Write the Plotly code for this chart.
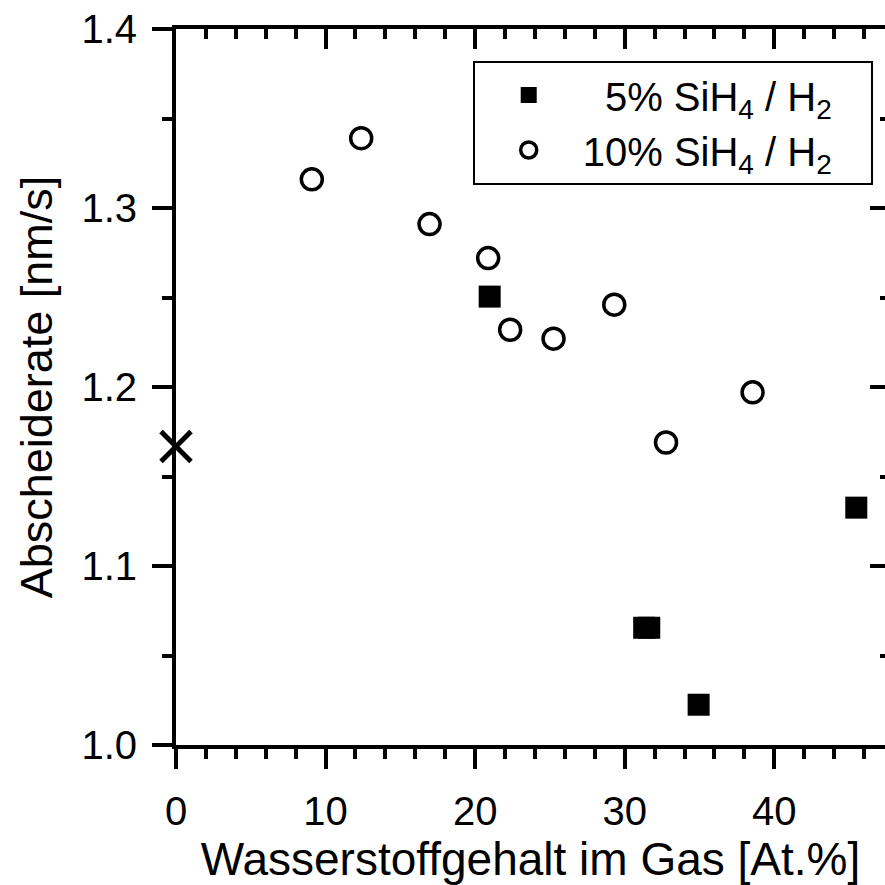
import plotly.graph_objects as go

# data
x_10 = [9.08, 12.38, 16.95, 20.87, 22.34, 25.24, 29.3, 32.76, 38.55]
y_10 = [1.316, 1.339, 1.291, 1.272, 1.232, 1.227, 1.246, 1.169, 1.197]
x_5 = [20.97, 31.30, 31.64, 34.94, 45.48]
y_5 = [1.2505, 1.0655, 1.0655, 1.0225, 1.1326]
x_ref = [0.0]
y_ref = [1.1668]

FONT = "Arial, 'Liberation Sans', sans-serif"
NB = "\u00a0"
PAD = "<span style='color:rgba(0,0,0,0)'>...</span>"

fig = go.Figure()
fig.add_trace(go.Scatter(
    x=x_5, y=y_5, mode="markers",
    name=NB * 2 + "5% SiH<sub>4</sub> / H<sub>2</sub>" + PAD,
    marker=dict(symbol="square", size=22, color="black", line=dict(width=0)),
    cliponaxis=False, xaxis="x", yaxis="y"))
fig.add_trace(go.Scatter(
    x=x_10, y=y_10, mode="markers",
    name="10% SiH<sub>4</sub> / H<sub>2</sub>" + PAD,
    marker=dict(symbol="circle-open", size=21, color="black", line=dict(width=3.5, color="black")),
    cliponaxis=False, xaxis="x2", yaxis="y2"))
fig.add_trace(go.Scatter(
    x=x_ref, y=y_ref, mode="markers", showlegend=False,
    marker=dict(symbol="x-thin-open", size=30, color="black", line=dict(width=5, color="black")),
    cliponaxis=False, xaxis="x", yaxis="y"))

common = dict(showgrid=False, zeroline=False, linecolor="black", linewidth=4,
              tickcolor="black", tickwidth=3.5)
minor_common = dict(tickwidth=3.5, tickcolor="black")

fig.update_layout(
    width=885, height=885,
    margin=dict(l=176, r=0, t=29, b=140),
    paper_bgcolor="white", plot_bgcolor="white",
    font=dict(family=FONT, color="black"),
    showlegend=True,
    legend=dict(x=0.4185, y=0.956, xanchor="left", yanchor="top",
                bordercolor="black", borderwidth=2, bgcolor="white",
                font=dict(size=40, family=FONT), itemwidth=98,
                tracegroupgap=0),
    xaxis=dict(range=[0, 47.4], showline=True, ticks="outside", ticklen=20,
               dtick=10, tick0=0, tickfont=dict(size=40), ticklabelstandoff=8,
               minor=dict(dtick=2, ticks="outside", ticklen=10, **minor_common),
               title=dict(text="Wasserstoffgehalt im Gas [At.%]", font=dict(size=46), standoff=12),
               **common),
    xaxis2=dict(range=[0, 47.4], overlaying="x", side="top", anchor="y2", matches="x",
                showline=True, ticks="inside", ticklen=20, dtick=10, tick0=0,
                showticklabels=False,
                minor=dict(dtick=2, ticks="inside", ticklen=10, **minor_common),
                **common),
    yaxis=dict(range=[1.0, 1.4], showline=True, ticks="outside", ticklen=20,
               dtick=0.1, tick0=1.0, tickformat=".1f", tickfont=dict(size=40),
               ticklabelstandoff=7,
               minor=dict(dtick=0.05, ticks="outside", ticklen=10, **minor_common),
               title=dict(text="Abscheiderate [nm/s]", font=dict(size=45), standoff=16),
               **common),
    yaxis2=dict(range=[1.0, 1.4], overlaying="y", side="right", anchor="x2", matches="y",
                showline=False, ticks="inside", ticklen=15, dtick=0.1, tick0=1.0,
                showticklabels=False,
                minor=dict(dtick=0.05, ticks="inside", ticklen=5, **minor_common),
                **common),
)

fig.write_html("out.html")
